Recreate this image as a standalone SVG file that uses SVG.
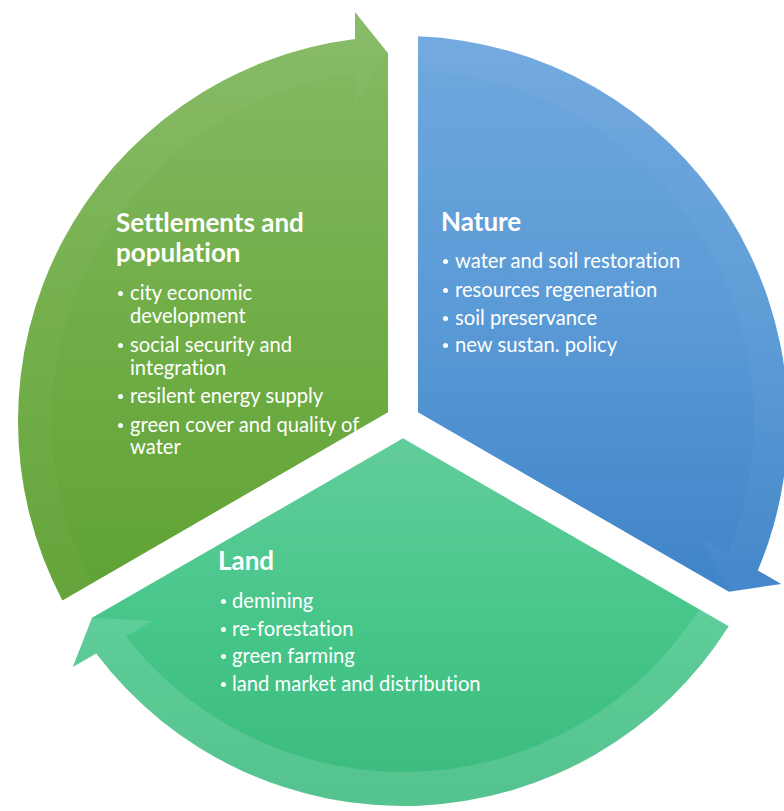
<svg xmlns="http://www.w3.org/2000/svg" width="784" height="811" viewBox="0 0 784 811">
<defs>
<linearGradient id="gGreen" x1="0" y1="0" x2="0" y2="1"><stop offset="0" stop-color="#86BA66"/><stop offset="0.5" stop-color="#71AE48"/><stop offset="1" stop-color="#60A234"/></linearGradient>
<linearGradient id="gBlue" x1="0" y1="0" x2="0" y2="1"><stop offset="0" stop-color="#70A8DE"/><stop offset="0.5" stop-color="#5A9AD6"/><stop offset="1" stop-color="#3F84C8"/></linearGradient>
<linearGradient id="gLand" x1="0" y1="0" x2="0" y2="1"><stop offset="0" stop-color="#62CD9C"/><stop offset="0.5" stop-color="#47C68A"/><stop offset="1" stop-color="#3BBA7E"/></linearGradient>
</defs>
<style>
.t{font-family:Lato,"Liberation Sans",sans-serif;fill:#FFFFFF;font-variant-ligatures:none;font-feature-settings:"liga" 0,"clig" 0;}
.h{font-weight:bold;font-size:26px;}
.b{font-size:20.2px;}
.dot{fill:#FFFFFF;}
.band{fill:#FFFFFF;}
</style>
<g id="connectors"></g>
<g id="settlements">
<path fill="url(#gGreen)" d="M388,412.34 L62.36,600.40 A385,385 0 0 1 355,39 L355,12 L388,53.3 Z"/>
<path class="band" fill-opacity="0.03" d="M62.36,600.40 A385,385 0 0 1 355,39 L355,12 L388,53.3 L355,104 L355,73.3 A351,351 0 0 0 91.75,583.25 Z"/>
<text class="t h" x="116" y="232">Settlements and</text>
<text class="t h" x="116" y="262">population</text>
<circle class="dot" cx="120.5" cy="293.5" r="2.5"/>
<text class="t b" x="130" y="300">city economic</text>
<text class="t b" x="130" y="323">development</text>
<circle class="dot" cx="120.5" cy="345.5" r="2.5"/>
<text class="t b" x="130" y="352">social security and</text>
<text class="t b" x="130" y="375">integration</text>
<circle class="dot" cx="120.5" cy="396.5" r="2.5"/>
<text class="t b" x="130" y="403">resilent energy supply</text>
<circle class="dot" cx="120.5" cy="425.5" r="2.5"/>
<text class="t b" x="130" y="432">green cover and quality of</text>
<text class="t b" x="130" y="454">water</text>
</g>
<g id="nature">
<path fill="url(#gBlue)" d="M418,412.34 L417.95,36.29 A385,385 0 0 1 757.82,570.43 L781.21,583.93 L728.94,591.86 Z"/>
<path class="band" fill-opacity="0.03" d="M417.95,36.29 A385,385 0 0 1 757.82,570.43 L781.21,583.93 L728.94,591.86 L701.53,537.93 L728.12,553.28 A351,351 0 0 0 418.12,70.32 Z"/>
<text class="t h" x="441" y="231">Nature</text>
<circle class="dot" cx="445.5" cy="261.5" r="2.5"/>
<text class="t b" x="455" y="268">water and soil restoration</text>
<circle class="dot" cx="445.5" cy="290.5" r="2.5"/>
<text class="t b" x="455" y="297">resources regeneration</text>
<circle class="dot" cx="445.5" cy="318.5" r="2.5"/>
<text class="t b" x="455" y="325">soil preservance</text>
<circle class="dot" cx="445.5" cy="345.5" r="2.5"/>
<text class="t b" x="455" y="352">new sustan. policy</text>
</g>
<g id="land">
<path fill="url(#gLand)" d="M403,438.32 L728.69,626.31 A385,385 0 0 1 96.18,653.57 L72.79,667.07 L92.06,617.84 Z"/>
<path class="band" fill-opacity="0.13" d="M728.69,626.31 A385,385 0 0 1 96.18,653.57 L72.79,667.07 L92.06,617.84 L152.47,621.07 L125.88,636.42 A351,351 0 0 0 699.14,609.42 Z"/>
<text class="t h" x="218" y="570">Land</text>
<circle class="dot" cx="223.5" cy="601.5" r="2.5"/>
<text class="t b" x="232" y="608">demining</text>
<circle class="dot" cx="223.5" cy="629.5" r="2.5"/>
<text class="t b" x="232" y="636">re-forestation</text>
<circle class="dot" cx="223.5" cy="656.5" r="2.5"/>
<text class="t b" x="232" y="663">green farming</text>
<circle class="dot" cx="223.5" cy="684.5" r="2.5"/>
<text class="t b" x="232" y="691">land market and distribution</text>
</g>
</svg>
